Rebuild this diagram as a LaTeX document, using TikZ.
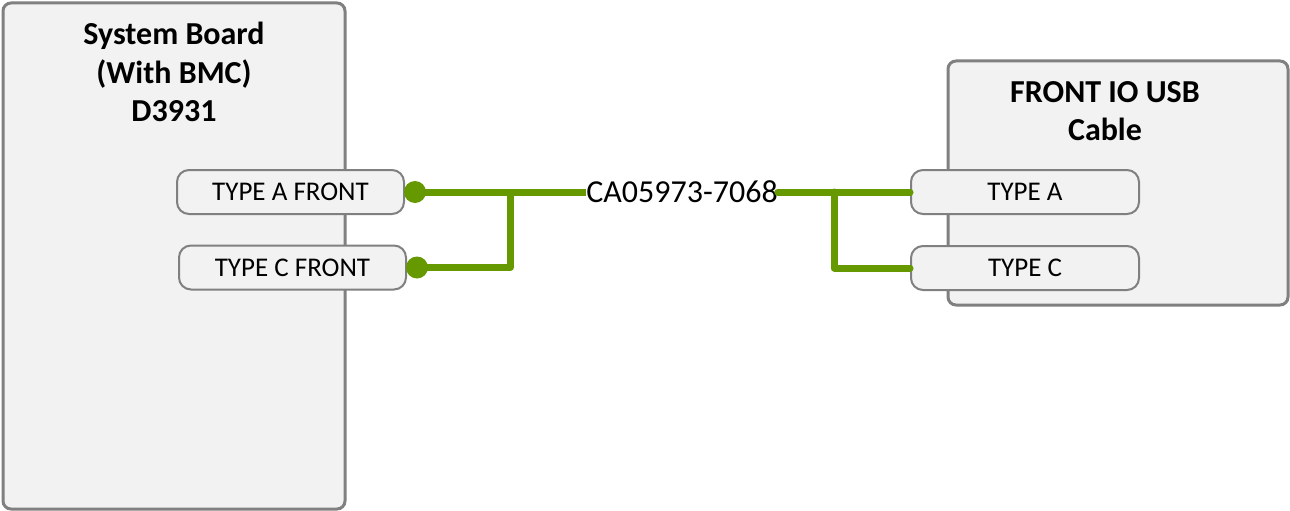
\documentclass[tikz,border=0pt]{standalone}
\usepackage{fontspec}
\setmainfont{Carlito}
\definecolor{boxgray}{HTML}{808080}
\definecolor{boxfill}{HTML}{F2F2F2}
\definecolor{cablegreen}{HTML}{669900}
\begin{document}
\begin{tikzpicture}[x=1pt,y=-1pt,
  board/.style={draw=boxgray, line width=3pt, fill=boxfill, rounded corners=8pt},
  port/.style={draw=boxgray, line width=2pt, fill=boxfill, rounded corners=12pt, minimum width=227pt, minimum height=44pt, inner sep=0pt, font=\fontsize{27}{30}\selectfont},
  title/.style={font=\fontsize{32}{38.5}\selectfont\bfseries, align=center, inner sep=0pt},
  cable/.style={draw=cablegreen, line width=7pt},
  plug/.style={circle, fill=cablegreen, inner sep=0pt, minimum size=22pt}]
\useasboundingbox (0,0) rectangle (1290,511);
\path[board] (3,3) rectangle (345,509);
\path[board] (948,61) rectangle (1288,305);
\node[title] (sbtitle) at (174,72) {System Board\\(With BMC)\\D3931};
\node[title] (fiotitle) at (1105,111) {FRONT IO USB\\Cable};
\node[port] (pa) at (290.5,192) {TYPE A FRONT};
\node[port] (pc) at (292.5,267.5) {TYPE C FRONT};
\node[port, minimum width=228pt] (ra) at (1025,192) {TYPE A};
\node[port, minimum width=228pt] (rc) at (1025,268) {TYPE C};
\node[plug] (da) at (415,192) {};
\node[plug] (dc) at (417,267.5) {};
\node[font=\fontsize{32}{36}\selectfont, inner sep=0pt] (lbl) at (682,192) {CA05973-7068};
\coordinate (jl) at (510,192);
\coordinate (jr) at (834,192);
\draw[cable] (da.center) -- (lbl.west);
\draw[cable, line join=round] (jl) -- (510,267.5) -- (dc.center);
\draw[cable, line cap=round] (lbl.east) -- (ra.west);
\draw[cable, line join=round, line cap=round] (jr) -- (834,268) -- (rc.west);
\end{tikzpicture}
\end{document}
